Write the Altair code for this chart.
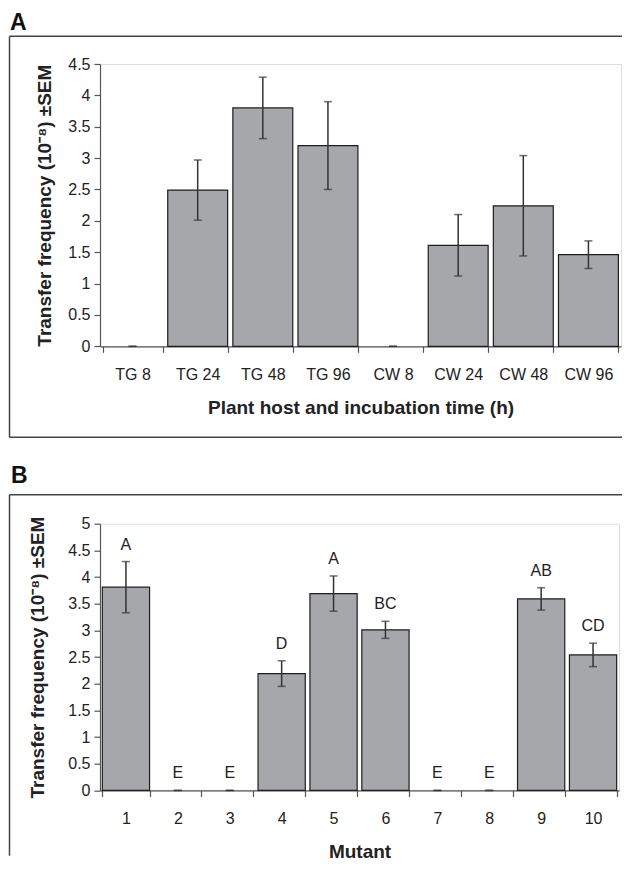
import altair as alt
import pandas as pd

# ---- Panel A data ----
hosts = ["TG 8", "TG 24", "TG 48", "TG 96", "CW 8", "CW 24", "CW 48", "CW 96"]
freq_a = [0, 2.49, 3.80, 3.20, 0, 1.61, 2.24, 1.46]
sem_a = [0, 0.48, 0.49, 0.70, 0, 0.49, 0.80, 0.22]

# ---- Panel B data ----
mutants = ["1", "2", "3", "4", "5", "6", "7", "8", "9", "10"]
freq_b = [3.81, 0, 0, 2.19, 3.69, 3.01, 0, 0, 3.59, 2.54]
sem_b = [0.48, 0, 0, 0.24, 0.33, 0.16, 0, 0, 0.21, 0.22]
groups_b = ["A", "E", "E", "D", "A", "BC", "E", "E", "AB", "CD"]

yticks_a = [0, 0.5, 1, 1.5, 2, 2.5, 3, 3.5, 4, 4.5]
yticks_b = [0, 0.5, 1, 1.5, 2, 2.5, 3, 3.5, 4, 4.5, 5]

FONT = "Liberation Sans"
YTITLE = "Transfer frequency (10\u207b\u2078) \u00b1SEM"
BAR_FILL = "#a6a7ab"
INK = "#1e1e1e"
AXIS_GRAY = "#555555"


def make_df(cats, vals, sems, letters=None):
    df = pd.DataFrame({"cat": cats, "v": vals, "s": sems})
    df["lo"] = df["v"] - df["s"]
    df["hi"] = df["v"] + df["s"]
    if letters is not None:
        df["grp"] = letters
    return df


def panel(df, cats, ymax, yticks, xtitle, width, height, pad_inner,
          ytitle_pad, label, label_pos, box, letters=False, anchor=None):
    xaxis = alt.Axis(labelAngle=0, tickBand="extent", tickSize=6,
                     labelPadding=14, titlePadding=16,
                     labelFont=FONT, labelFontSize=16, labelColor="#222222",
                     titleFont=FONT, titleFontSize=19, titleFontWeight="bold",
                     titleColor="#222222", domainColor=AXIS_GRAY,
                     tickColor=AXIS_GRAY, domainWidth=1.2, tickWidth=1.2)
    xscale = alt.Scale(paddingInner=pad_inner, paddingOuter=pad_inner / 2)
    yscale = alt.Scale(domain=[0, ymax], nice=False, zero=True)
    yaxis = alt.Axis(values=yticks, format="~g", tickSize=6, labelPadding=4,
                     titlePadding=ytitle_pad, grid=False, labelOverlap=False,
                     labelFont=FONT, labelFontSize=16, labelColor="#222222",
                     titleFont=FONT, titleFontSize=19, titleFontWeight="bold",
                     titleColor="#222222", domainColor=AXIS_GRAY,
                     tickColor=AXIS_GRAY, domainWidth=1.2, tickWidth=1.2)

    def X():
        return alt.X("cat:N", sort=cats, title=xtitle, scale=xscale, axis=xaxis)

    def Y(field):
        return alt.Y(field, type="quantitative", scale=yscale, axis=yaxis,
                     title=YTITLE)

    base = alt.Chart(df)
    bars = base.transform_filter("datum.v > 0").mark_bar(
        fill=BAR_FILL, stroke=INK, strokeWidth=1.2
    ).encode(x=X(), y=Y("v"))

    err = base.mark_rule(color="#333333", strokeWidth=1.5).encode(
        x=X(), y=Y("lo"), y2="hi:Q")
    cap_lo = base.mark_tick(color="#333333", size=8, thickness=1.5,
                            orient="horizontal").encode(x=X(), y=Y("lo"))
    cap_hi = base.mark_tick(color="#333333", size=8, thickness=1.5,
                            orient="horizontal").encode(x=X(), y=Y("hi"))

    layers = [bars, err, cap_lo, cap_hi]

    if letters:
        txt = base.mark_text(font=FONT, fontSize=16, color="#222222",
                             baseline="alphabetic", dy=-12).encode(
            x=X(), y=Y("hi"), text="grp:N")
        layers.append(txt)

    one = alt.Data(values=[{"k": 0}])
    lab = alt.Chart(one).mark_text(
        text=label, font=FONT, fontSize=23, fontWeight="bold",
        align="left", baseline=label_pos[2], color="#111111"
    ).encode(x=alt.value(label_pos[0]), y=alt.value(label_pos[1]))
    layers.append(lab)

    left, top, right, bottom, draw_bottom = box
    rule_style = dict(color="#444444", strokeWidth=1.5)
    layers.append(alt.Chart(one).mark_rule(**rule_style).encode(
        x=alt.value(left), x2=alt.value(right), y=alt.value(top)))
    layers.append(alt.Chart(one).mark_rule(**rule_style).encode(
        x=alt.value(left), y=alt.value(top), y2=alt.value(bottom)))
    if draw_bottom:
        layers.append(alt.Chart(one).mark_rule(**rule_style).encode(
            x=alt.value(left), x2=alt.value(right), y=alt.value(bottom)))

    if anchor is not None:
        layers.append(alt.Chart(one).mark_rect(opacity=0).encode(
            x=alt.value(anchor[0]), x2=alt.value(anchor[0] + 1),
            y=alt.value(anchor[1]), y2=alt.value(anchor[1] + 1)))

    return alt.layer(*layers).properties(width=width, height=height)


df_a = make_df(hosts, freq_a, sem_a)
df_b = make_df(mutants, freq_b, sem_b, groups_b)

chart_a = panel(df_a, hosts, 4.5, yticks_a,
                "Plant host and incubation time (h)", 521, 282.3, 0.08,
                13, "A", (-90, -51.7, "top"), (-90.5, -27.7, 522, 373.3, True),
                anchor=(-89, -54.7))
chart_b = panel(df_b, mutants, 5, yticks_b, "Mutant", 519, 266.7, 0.09,
                20, "B", (-89, -41, "alphabetic"), (-90.5, -29, 522, 332, False),
                letters=True)

PAD = {"left": 0, "top": 0, "right": 0, "bottom": 0}
chart = alt.vconcat(chart_a, chart_b, spacing=176.7, bounds="flush",
                    padding=PAD,
                    autosize=alt.AutoSizeParams(type="pad")
                    ).configure_view(stroke=None).configure(
    background="white", padding=PAD)

chart.save("out.html", embed_options={"renderer": "svg", "actions": False})
